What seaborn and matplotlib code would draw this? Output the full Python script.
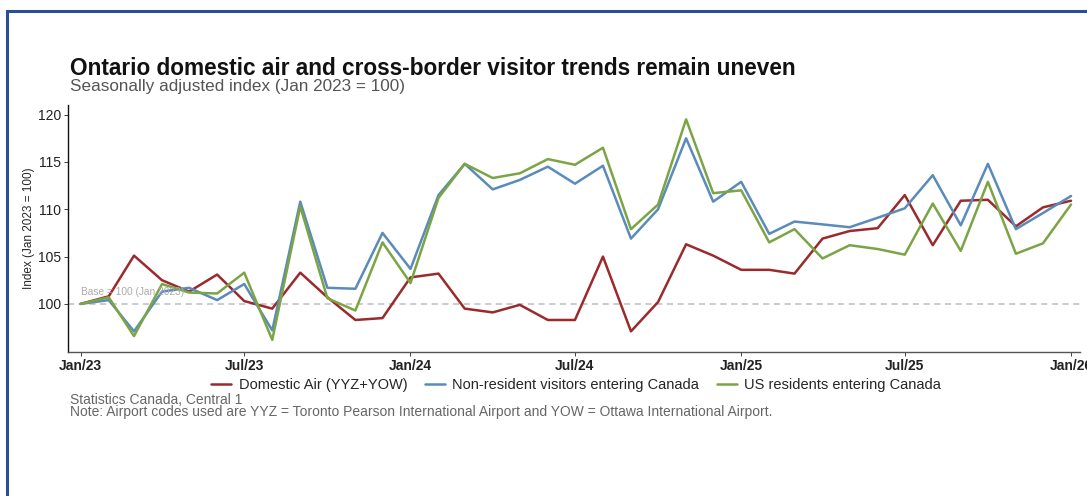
import pandas as pd
import matplotlib.pyplot as plt
import matplotlib.patches as mpatches
import seaborn as sns

sns.set_theme(style="white")
plt.rcParams['font.family'] = ['Liberation Sans', 'DejaVu Sans']

# monthly index values, Jan 2023 - Jan 2026 (Jan 2023 = 100)
months = pd.date_range('2023-01-01', '2026-01-01', freq='MS')

domestic_air = [100.0, 100.8, 105.1, 102.5, 101.3, 103.1, 100.3, 99.5, 103.3, 100.7,
                98.3, 98.5, 102.8, 103.2, 99.5, 99.1, 99.9, 98.3, 98.3, 105.0,
                97.1, 100.2, 106.3, 105.1, 103.6, 103.6, 103.2, 106.9, 107.7, 108.0,
                111.5, 106.2, 110.9, 111.0, 108.2, 110.2, 110.9]
non_resident = [100.0, 100.4, 97.1, 101.3, 101.7, 100.4, 102.1, 97.2, 110.8, 101.7,
                101.6, 107.5, 103.7, 111.5, 114.8, 112.1, 113.1, 114.5, 112.7, 114.6,
                106.9, 110.0, 117.5, 110.8, 112.9, 107.4, 108.7, 108.4, 108.1, 109.1,
                110.1, 113.6, 108.3, 114.8, 107.9, 109.6, 111.4]
us_residents = [100.0, 100.7, 96.6, 102.1, 101.2, 101.1, 103.3, 96.2, 110.3, 100.6,
                99.3, 106.5, 102.2, 111.2, 114.8, 113.3, 113.8, 115.3, 114.7, 116.5,
                107.9, 110.5, 119.5, 111.7, 112.0, 106.5, 107.9, 104.8, 106.2, 105.8,
                105.2, 110.6, 105.6, 112.9, 105.3, 106.4, 110.5]

series_names = ['Domestic Air (YYZ+YOW)', 'Non-resident visitors entering Canada',
                'US residents entering Canada']
colors = ['#9B2A2C', '#5A8BBA', '#7BA544']

df = pd.concat([
    pd.DataFrame({'month': months, 'value': vals, 'series': name})
    for name, vals in zip(series_names, [domestic_air, non_resident, us_residents])
])

fig = plt.figure(figsize=(10.87, 4.96), dpi=100)
ax = fig.add_axes([0.0626, 0.29, 0.931, 0.498])

sns.lineplot(data=df, x='month', y='value', hue='series', hue_order=series_names,
             palette=colors, linewidth=1.8, ax=ax)

# base line
ax.axhline(100, color='#BDBDBD', linestyle=(0, (4, 3)), linewidth=1.1, zorder=0)
ax.text(months[0], 101.3, 'Base = 100 (Jan 2023)', fontsize=7.3, color='#AAAAAA',
        ha='left', va='center')

ax.set_xlim(months[0] - pd.Timedelta(days=14), months[-1] + pd.Timedelta(days=10))
ax.set_ylim(94.9, 121)
ax.set_yticks([100, 105, 110, 115, 120])
tick_months = months[::6]
ax.set_xticks(tick_months)
ax.set_xticklabels([m.strftime('%b/%y') for m in tick_months])
ax.tick_params(axis='both', labelsize=10, colors='#222222', length=3, width=0.6,
               left=True, bottom=True, pad=2)
for lbl in ax.get_xticklabels():
    lbl.set_fontweight('semibold')
ax.set_xlabel('')
ax.set_ylabel('Index (Jan 2023 = 100)', fontsize=8.5,
              family=['Liberation Sans Narrow', 'Liberation Sans'], labelpad=2)

for side in ['top', 'right']:
    ax.spines[side].set_visible(False)
ax.spines['left'].set_color('#111111')
ax.spines['left'].set_linewidth(1.0)
ax.spines['bottom'].set_color('#555555')
ax.spines['bottom'].set_linewidth(1.0)

ax.legend_.remove()
handles, labels = ax.get_legend_handles_labels()
fig.legend(handles, labels, loc='center', bbox_to_anchor=(0.53, 0.224), ncol=3,
           frameon=False, fontsize=10.5, handlelength=1.4, handletextpad=0.5,
           columnspacing=1.2)

fig.text(0.0644, 1 - 75 / 496, 'Ontario domestic air and cross-border visitor trends remain uneven',
         fontsize=16.3, fontweight='bold', color='#111111', va='baseline')
fig.text(0.0644, 1 - 91 / 496, 'Seasonally adjusted index (Jan 2023 = 100)',
         fontsize=12.3, color='#555555', va='baseline')
fig.text(0.0644, 1 - 400 / 496, 'Statistics Canada, Central 1', fontsize=10, color='#666666',
         va='center')
fig.text(0.0644, 1 - 412 / 496, 'Note: Airport codes used are YYZ = Toronto Pearson International '
         'Airport and YOW = Ottawa International Airport.', fontsize=10, color='#666666',
         va='center')

# frame around the figure
fig.patches.append(mpatches.Rectangle((0.0064, -0.05), 1.1, 1.027, transform=fig.transFigure,
                                      fill=False, edgecolor='#2B5090', linewidth=2.2))

plt.savefig('out.png', dpi=100)
